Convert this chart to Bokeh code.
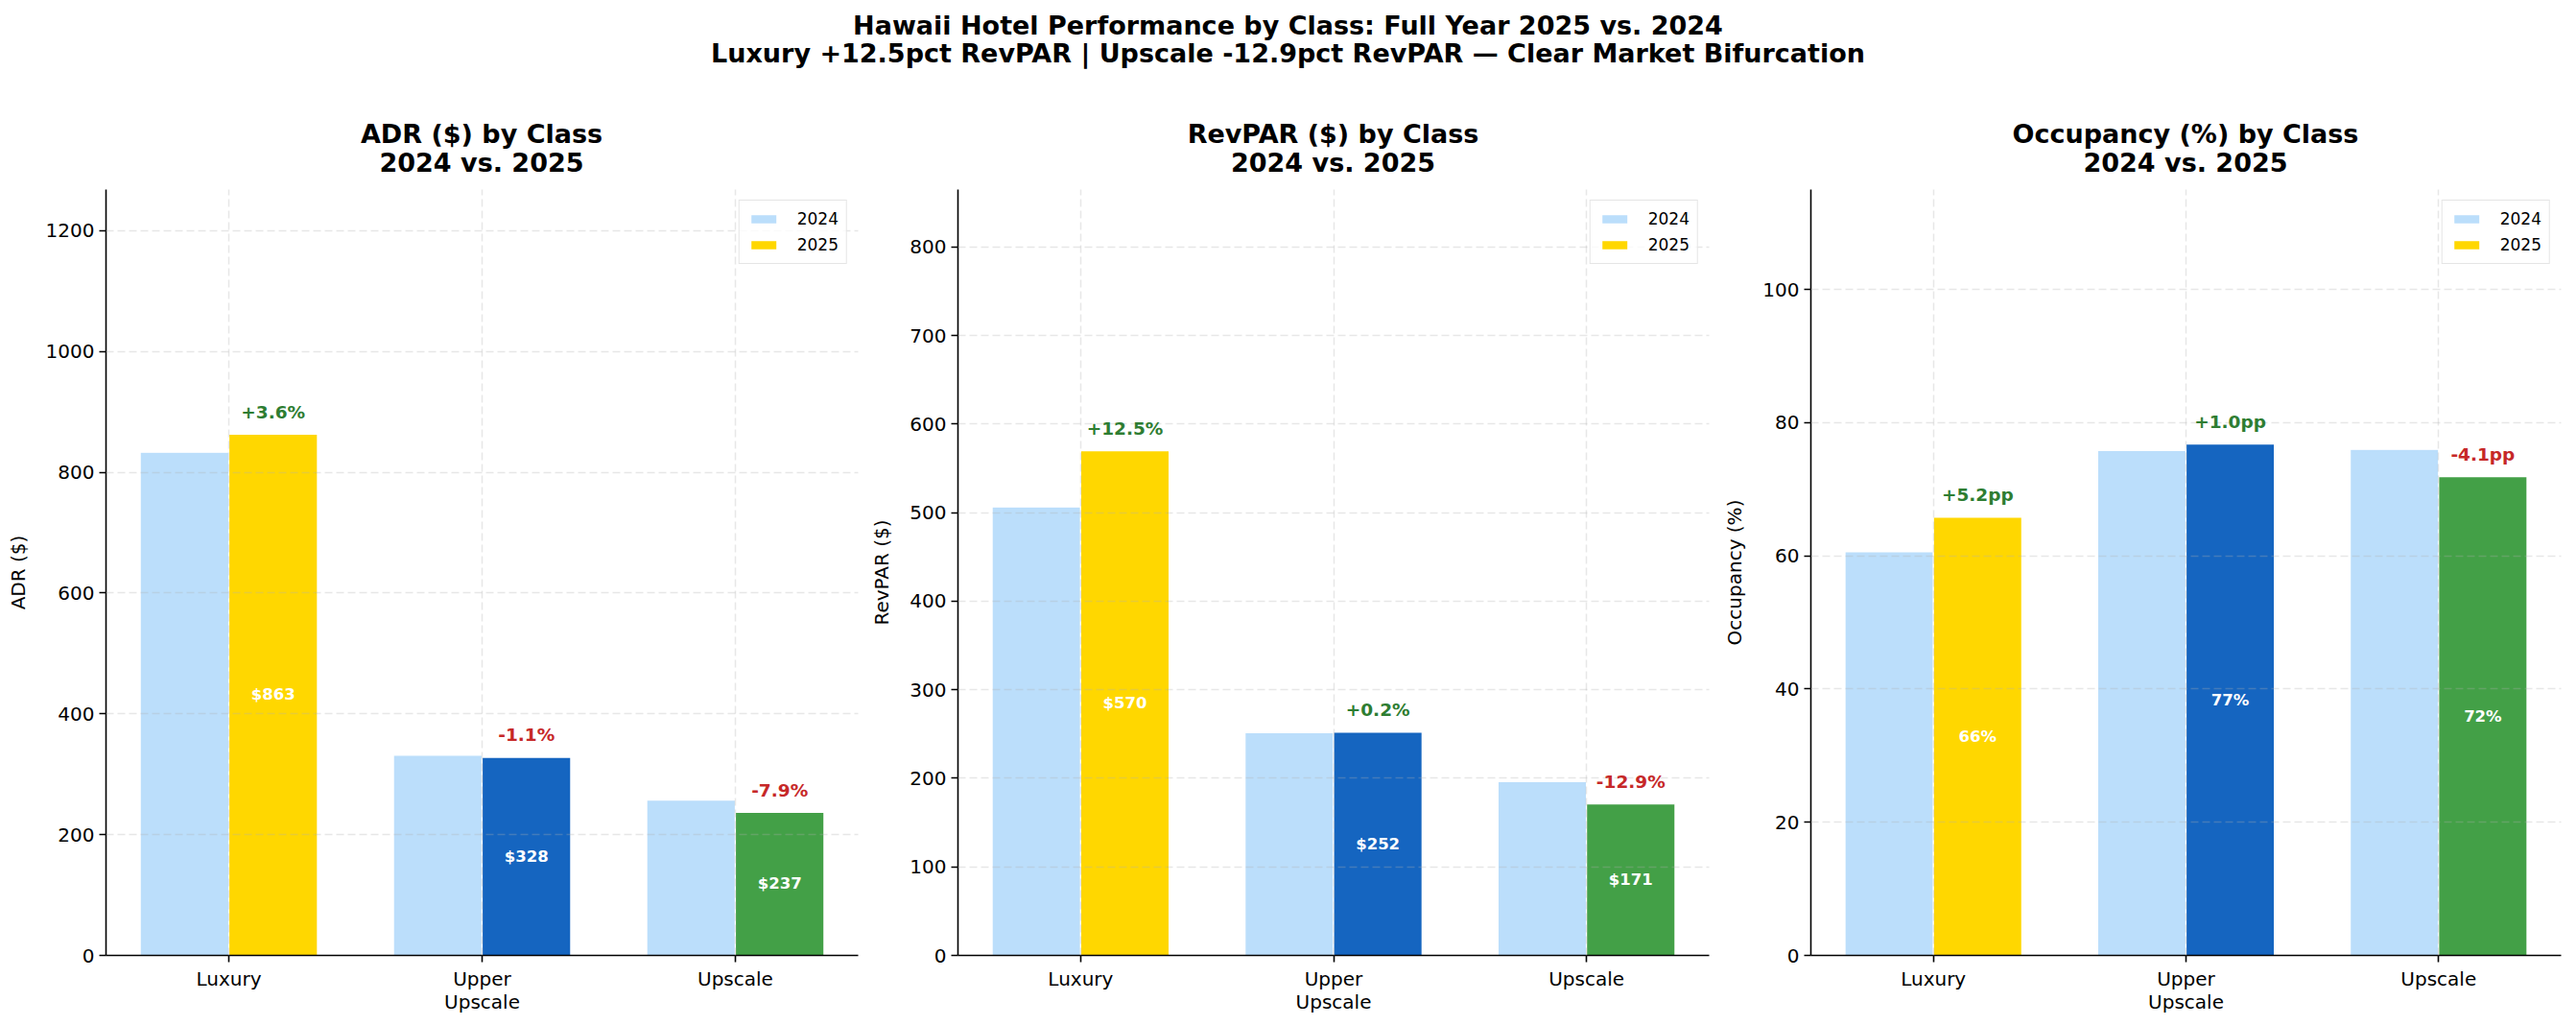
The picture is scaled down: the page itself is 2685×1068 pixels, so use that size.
from bokeh.plotting import figure
from bokeh.models import ColumnDataSource, Range1d, SingleIntervalTicker, FixedTicker, Legend, LegendItem, Div
from bokeh.layouts import row, column
from bokeh.embed import file_html
from bokeh.resources import INLINE
from bokeh.core.properties import value

# ---------------- data ----------------
categories = ["Luxury", "Upper Upscale", "Upscale"]
tick_labels = ["Luxury", "Upper\nUpscale", "Upscale"]
years = ["2024", "2025"]

adr_2024 = [833, 331.6, 257.3]
adr_2025 = [863, 328, 237]
adr_labels = ["$863", "$328", "$237"]
adr_deltas = ["+3.6%", "-1.1%", "-7.9%"]

revpar_2024 = [506.5, 251.5, 196.3]
revpar_2025 = [570, 252, 171]
revpar_labels = ["$570", "$252", "$171"]
revpar_deltas = ["+12.5%", "+0.2%", "-12.9%"]

occ_2024 = [60.6, 75.8, 76.0]
occ_2025 = [65.8, 76.8, 71.9]
occ_labels = ["66%", "77%", "72%"]
occ_deltas = ["+5.2pp", "+1.0pp", "-4.1pp"]

suptitle_lines = ["Hawaii Hotel Performance by Class: Full Year 2025 vs. 2024",
                  "Luxury +12.5pct RevPAR | Upscale -12.9pct RevPAR \u2014 Clear Market Bifurcation"]
panel_titles = [["ADR ($) by Class", "2024 vs. 2025"],
                ["RevPAR ($) by Class", "2024 vs. 2025"],
                ["Occupancy (%) by Class", "2024 vs. 2025"]]
y_labels = ["ADR ($)", "RevPAR ($)", "Occupancy (%)"]

# ---------------- style / layout ----------------
color_2024 = "#bbdefb"
colors_2025 = ["#ffd700", "#1565c0", "#43a047"]
up_color = "#2e7d32"
down_color = "#c62828"
FONT = "DejaVu Sans"
HEAD_H = 190
FIG_H = 1068 - HEAD_H


def panel(ylabel, v24, v25, vlabels, deltas, ymax, interval, width, lb, rb):
    p = figure(width=width, height=FIG_H, x_range=Range1d(-0.485, 2.485), y_range=Range1d(0, ymax),
               output_backend="svg", toolbar_location=None, title=None,
               min_border_left=lb, min_border_right=rb, min_border_top=7, min_border_bottom=73,
               margin=(0, 0, 0, 0))
    p.outline_line_color = None
    idx = list(range(len(categories)))
    bw = 0.35
    src24 = ColumnDataSource(dict(x=[i - bw / 2 for i in idx], top=v24))
    src25 = ColumnDataSource(dict(x=[i + bw / 2 for i in idx], top=v25, color=colors_2025))
    r24 = p.vbar(x="x", top="top", width=bw, source=src24, fill_color=color_2024,
                 line_color="white", line_width=1.2)
    r25 = p.vbar(x="x", top="top", width=bw, source=src25, fill_color="color",
                 line_color="white", line_width=1.2)

    # value labels inside 2025 bars
    vsrc = ColumnDataSource(dict(x=[i + bw / 2 for i in idx], y=[v / 2 for v in v25], t=vlabels))
    tv = p.text(x="x", y="y", text="t", source=vsrc, text_align="center", text_baseline="middle",
                text_font=value(FONT), text_font_style="bold", text_font_size="16.5px", text_color="white")
    tv.level = "annotation"
    # delta labels above 2025 bars
    dcol = [up_color if d.startswith("+") else down_color for d in deltas]
    dsrc = ColumnDataSource(dict(x=[i + bw / 2 for i in idx], y=[v + 0.029 * ymax for v in v25],
                                 t=deltas, c=dcol))
    td = p.text(x="x", y="y", text="t", source=dsrc, text_align="center", text_baseline="middle",
                text_font=value(FONT), text_font_style="bold", text_font_size="18.5px", text_color="c")
    td.level = "annotation"

    # axes
    p.xaxis.ticker = FixedTicker(ticks=idx)
    p.xaxis.major_label_overrides = {i: tick_labels[i] for i in idx}
    p.yaxis.ticker = SingleIntervalTicker(interval=interval)
    p.yaxis.axis_label = ylabel
    for ax in (p.xaxis, p.yaxis):
        ax.axis_line_color = "black"
        ax.axis_line_width = 1.6
        ax.major_tick_line_color = "black"
        ax.major_tick_line_width = 1.6
        ax.major_tick_in = 0
        ax.major_tick_out = 7
        ax.minor_tick_line_color = None
        ax.major_label_text_font = FONT
        ax.major_label_text_font_size = "20px"
        ax.major_label_text_color = "black"
        ax.major_label_text_line_height = 1.0
        ax.major_label_standoff = 5
        ax.axis_label_text_font = FONT
        ax.axis_label_text_font_size = "20px"
        ax.axis_label_text_font_style = "normal"
        ax.axis_label_text_color = "black"
        ax.axis_label_standoff = 14

    # grid (drawn over the bars, as in the original)
    for g in (p.xgrid, p.ygrid):
        g.grid_line_color = "#b0b0b0"
        g.grid_line_alpha = 0.3
        g.grid_line_dash = "8 4"
        g.grid_line_width = 1.5
        g.level = "guide"

    legend = Legend(items=[LegendItem(label=years[0], renderers=[r24], index=0),
                           LegendItem(label=years[1], renderers=[r25], index=0)],
                    location="top_right")
    legend.label_text_font = FONT
    legend.label_text_font_size = "17px"
    legend.label_text_color = "black"
    legend.glyph_width = 34
    legend.glyph_height = 12
    legend.label_height = 22
    legend.label_standoff = 18
    legend.spacing = 5
    legend.padding = 8
    legend.margin = 11
    legend.border_line_color = "#cccccc"
    legend.border_line_width = 1.5
    legend.background_fill_alpha = 0.8
    p.add_layout(legend)
    return p


# (figure width, left border, right border) -> frames at x = 110, 998, 1887
geoms = [(904, 110, 10), (887, 94, 10), (894, 96, 16)]
p1 = panel(y_labels[0], adr_2024, adr_2025, adr_labels, adr_deltas, 1268, 200, *geoms[0])
p2 = panel(y_labels[1], revpar_2024, revpar_2025, revpar_labels, revpar_deltas, 865, 100, *geoms[1])
p3 = panel(y_labels[2], occ_2024, occ_2025, occ_labels, occ_deltas, 115, 20, *geoms[2])

# header: figure title + the three panel titles centred over their plot frames
parts = ['<div style="position:relative;width:2685px;height:%dpx;font-family:\'DejaVu Sans\';'
         'font-weight:bold;color:black;font-size:27px;">' % HEAD_H,
         '<div style="position:absolute;left:0;top:13px;width:2685px;text-align:center;line-height:28.5px;">'
         + "<br>".join(suptitle_lines) + '</div>']
x0 = 0
for (w, lb, rb), tl in zip(geoms, panel_titles):
    fw = w - lb - rb
    parts.append('<div style="position:absolute;left:%dpx;top:125px;width:%dpx;text-align:center;'
                 'line-height:29.5px;white-space:nowrap;">%s</div>' % (x0 + lb, fw, "<br>".join(tl)))
    x0 += w
parts.append('</div>')
head = Div(text="".join(parts), width=2685, height=HEAD_H, margin=(0, 0, 0, 0))

layout = column(head, row(p1, p2, p3, spacing=0), spacing=0)
with open("out.html", "w", encoding="utf-8") as f:
    f.write(file_html(layout, INLINE))
